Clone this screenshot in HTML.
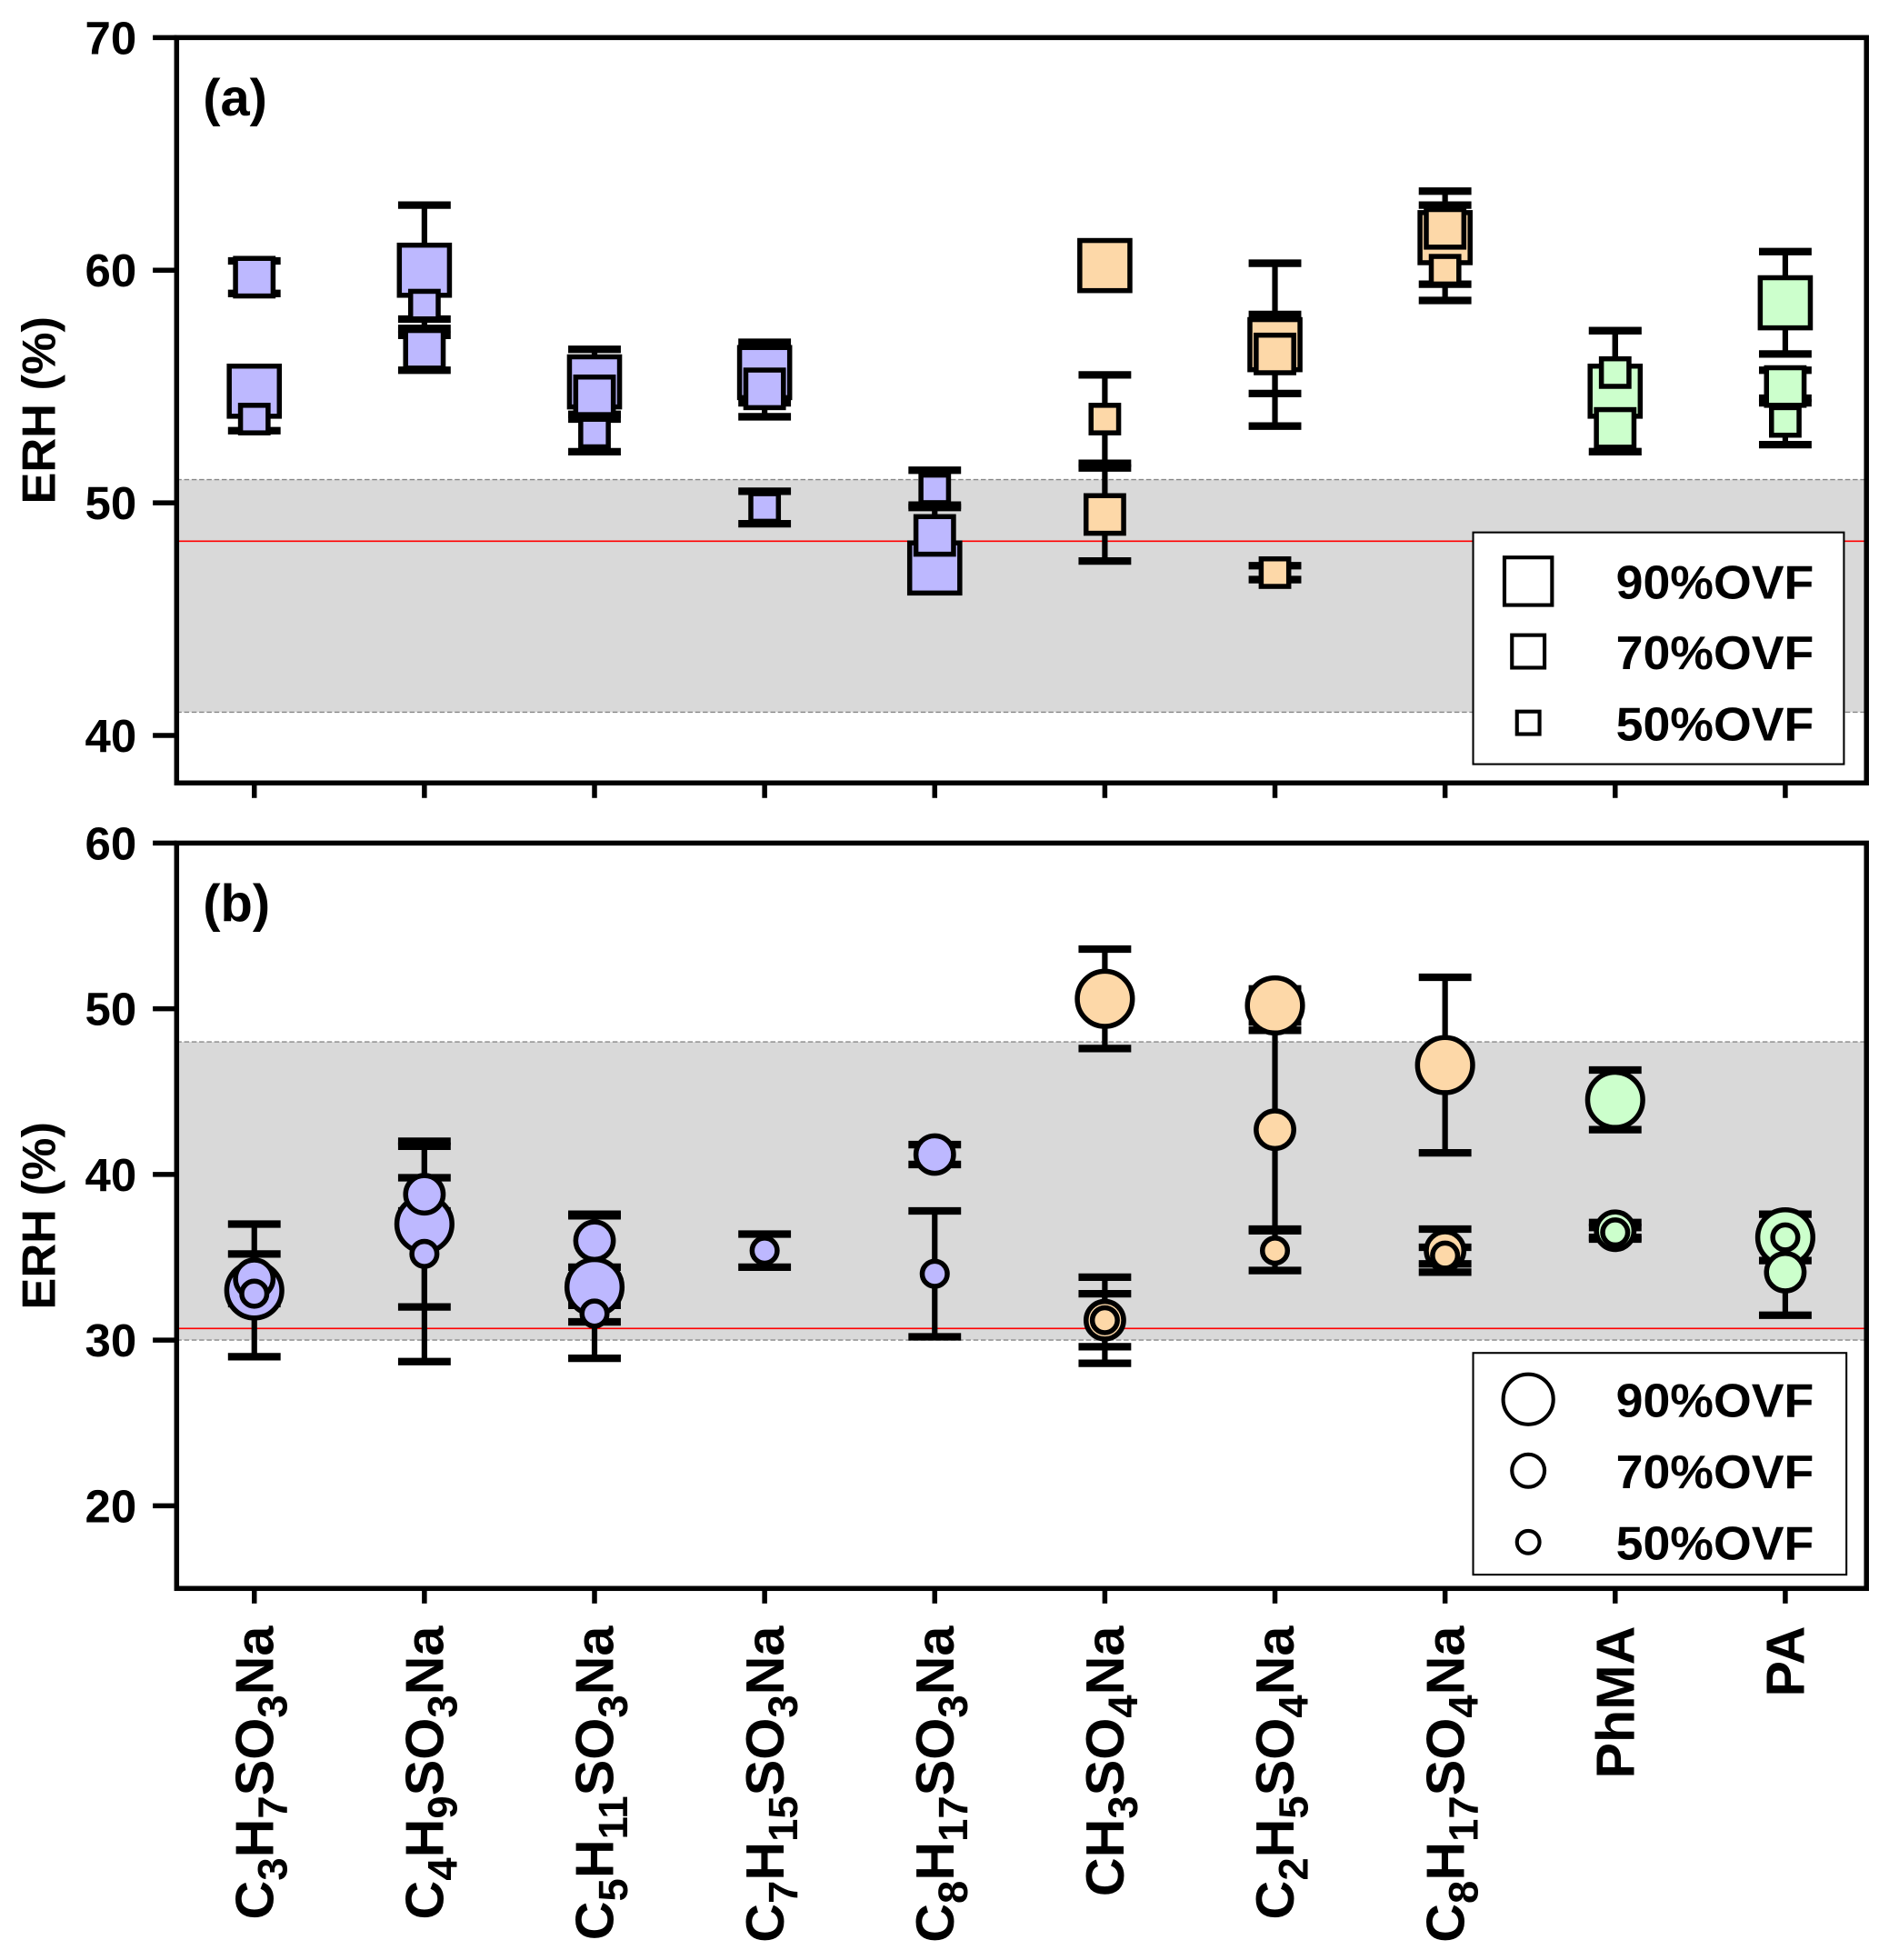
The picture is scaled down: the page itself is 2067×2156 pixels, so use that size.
<!DOCTYPE html>
<html><head><meta charset="utf-8"><style>
html,body{margin:0;padding:0;background:#fff}
svg{display:block}
text{font-family:"Liberation Sans",Arial,sans-serif;font-weight:bold}
</style></head><body>
<svg id="chart" width="2067" height="2156" viewBox="0 0 1500 1564.6" xmlns="http://www.w3.org/2000/svg"></svg>
<script>
const categories=["C3H7SO3Na","C4H9SO3Na","C5H11SO3Na","C7H15SO3Na","C8H17SO3Na","CH3SO4Na","C2H5SO4Na","C8H17SO4Na","PhMA","PA"];
const groups=["p","p","p","p","p","o","o","o","g","g"];
// panel (a) squares
const a90=[54.8,60.0,55.2,55.6,47.2,60.2,56.8,61.4,54.8,58.6];
const a90e=[1.0,2.8,1.4,1.3,0.8,0,3.5,2.0,2.6,2.2];
const a70=[59.7,56.6,54.6,54.9,48.6,49.5,56.4,61.8,53.2,55.0];
const a70e=[0.7,0.9,1.0,1.2,1.3,2.0,1.7,1.0,1.0,0.7];
const a50=[53.6,58.5,53.0,49.8,50.6,53.6,47.0,60.0,55.6,53.5];
const a50e=[0.5,0.6,0.8,0.7,0.8,1.9,0.3,1.3,1.8,1.0];
// panel (b) circles
const b90=[33.0,37.0,33.2,null,null,50.6,50.2,46.6,44.5,36.2];
const b90e=[4.0,5.0,4.3,0,0,3.0,1.0,5.3,1.8,1.4];
const b70=[33.7,38.8,36.0,null,41.2,31.2,42.7,35.4,36.6,34.1];
const b70e=[1.5,1.0,1.6,0,0.6,1.6,6.0,1.3,0.5,2.6];
const b50=[32.8,35.2,31.6,35.4,34.0,31.2,35.4,35.1,36.5,36.2];
const b50e=[0.3,6.5,0.5,1.0,3.8,2.6,1.2,0.5,0.3,0.4];
const yTicksA=[40,50,60,70];
const yTicksB=[20,30,40,50,60];

const NS="http://www.w3.org/2000/svg";
const svg=document.getElementById('chart');
const fill={p:"#bdb8ff",o:"#fdd8a8",g:"#ccffcc"};
function el(tag,attrs,parent){const e=document.createElementNS(NS,tag);for(const k in attrs)e.setAttribute(k,attrs[k]);(parent||svg).appendChild(e);return e;}
const L=141,R=1490;
const xPos=i=>203+i*135.8;
const yA=v=>30+(70-v)*18.57;
const yB=v=>673+(60-v)*13.225;

function panel(top,bot,y,ticks,band,red,label,name){
  const g=el('g',{});
  
  
  const b=el('rect',{x:L,y:y(band[1]),width:R-L,height:y(band[0])-y(band[1]),fill:"#d9d9d9"},g);
  
  
  [band[0],band[1]].forEach(v=>el('line',{x1:L,x2:R,y1:y(v),y2:y(v),stroke:"#888","stroke-width":1,"stroke-dasharray":"4,2"},g));
  const r=el('line',{x1:L,x2:R,y1:y(red),y2:y(red),stroke:"#ff0000","stroke-width":1.2},g);
  
  
  ticks.forEach(t=>{
    el('line',{x1:122,x2:L,y1:y(t),y2:y(t),stroke:"#000","stroke-width":4},g);
    const tx=el('text',{x:109,y:y(t)+13,"text-anchor":"end","font-size":37},g);
    tx.textContent=t;
    
    
  });
  categories.forEach((c,i)=>el('line',{x1:xPos(i),x2:xPos(i),y1:bot,y2:bot+12,stroke:"#000","stroke-width":4},g));
  const yt=el('text',{transform:`translate(44,${(top+bot)/2}) rotate(-90)`,"text-anchor":"middle","font-size":38},g);
  yt.textContent="ERH (%)";
  
  
  const pl=el('text',{x:162,y:top+62,"font-size":42},g);
  pl.textContent=label;
  
  
  return g;
}
const gA=panel(30,625,yA,yTicksA,[41,51],48.35,"(a)","panel-a");
const gB=panel(673,1268,yB,yTicksB,[30,48],30.7,"(b)","panel-b");

function errbar(g,x,y,v,e){
  if(v==null||!e)return;
  const y1=y(v+e),y2=y(v-e);
  el('line',{x1:x,x2:x,y1:y1,y2:y2,stroke:"#000","stroke-width":4.5},g);
  el('line',{x1:x-21,x2:x+21,y1:y1,y2:y1,stroke:"#000","stroke-width":6},g);
  el('line',{x1:x-21,x2:x+21,y1:y2,y2:y2,stroke:"#000","stroke-width":6},g);
}
const seriesA=[[a90,a90e,40,'90'],[a70,a70e,30,'70'],[a50,a50e,22,'50']];
const seriesB=[[b90,b90e,22,'90'],[b70,b70e,15,'70'],[b50,b50e,10,'50']];
categories.forEach((c,i)=>{
  const x=xPos(i),f=fill[groups[i]];
  seriesA.forEach(([v,e])=>errbar(gA,x,yA,v[i],e[i]));
  seriesA.forEach(([v,e,s,n])=>{
    if(v[i]==null)return;
    const m=el('rect',{x:x-s/2,y:yA(v[i])-s/2,width:s,height:s,fill:f,stroke:"#000","stroke-width":4},gA);
    
    
  });
  seriesB.forEach(([v,e])=>errbar(gB,x,yB,v[i],e[i]));
  seriesB.forEach(([v,e,r,n])=>{
    if(v[i]==null)return;
    const m=el('circle',{cx:x,cy:yB(v[i]),r:r,fill:f,stroke:"#000","stroke-width":4},gB);
    
    
  });
});
[[30,625],[673,1268]].forEach(([t,b])=>{
  const fr=el('rect',{x:L,y:t,width:R-L,height:b-t,fill:"none",stroke:"#000","stroke-width":4});
  
  
});
function legend(x,y,w,h,shape,rowsY,name){
  const g=el('g',{});
  
  
  el('rect',{x:x,y:y,width:w,height:h,fill:"#fff",stroke:"#000","stroke-width":1.5},g);
  const labs=["90%OVF","70%OVF","50%OVF"],sz=shape==='sq'?[38,26,18]:[20,13,9];
  rowsY.forEach((ry,k)=>{
    if(shape==='sq')el('rect',{x:1220-sz[k]/2,y:ry-sz[k]/2,width:sz[k],height:sz[k],fill:"#fff",stroke:"#000","stroke-width":3},g);
    else el('circle',{cx:1220,cy:ry,r:sz[k],fill:"#fff",stroke:"#000","stroke-width":3},g);
    const t=el('text',{x:1448,y:ry+14,"text-anchor":"end","font-size":38,textLength:158,lengthAdjust:"spacingAndGlyphs"},g);
    t.textContent=labs[k];
    
    
  });
}
legend(1176,425,296,185,'sq',[464,520,577],'legend-a');
legend(1176,1080,298,177,'ci',[1117,1174,1231],'legend-b');
const labelParts=[
 [["C"],["3",1],["H"],["7",1],["SO"],["3",1],["Na"]],
 [["C"],["4",1],["H"],["9",1],["SO"],["3",1],["Na"]],
 [["C"],["5",1],["H"],["11",1],["SO"],["3",1],["Na"]],
 [["C"],["7",1],["H"],["15",1],["SO"],["3",1],["Na"]],
 [["C"],["8",1],["H"],["17",1],["SO"],["3",1],["Na"]],
 [["CH"],["3",1],["SO"],["4",1],["Na"]],
 [["C"],["2",1],["H"],["5",1],["SO"],["4",1],["Na"]],
 [["C"],["8",1],["H"],["17",1],["SO"],["4",1],["Na"]],
 [["PhMA"]],[["PA"]]];
categories.forEach((c,i)=>{
  const t=el('text',{transform:`translate(${xPos(i)+15},1298) rotate(-90)`,"text-anchor":"end","font-size":43});
  
  
  let down=false;
  labelParts[i].forEach(([s,sub])=>{
    let a;
    if(sub){a={"font-size":33,dy:down?0:11};down=true;}
    else{a={"font-size":43,dy:down?-11:0};down=false;}
    const ts=el('tspan',a,t);
    ts.textContent=s;
  });
});
</script>
</body></html>
